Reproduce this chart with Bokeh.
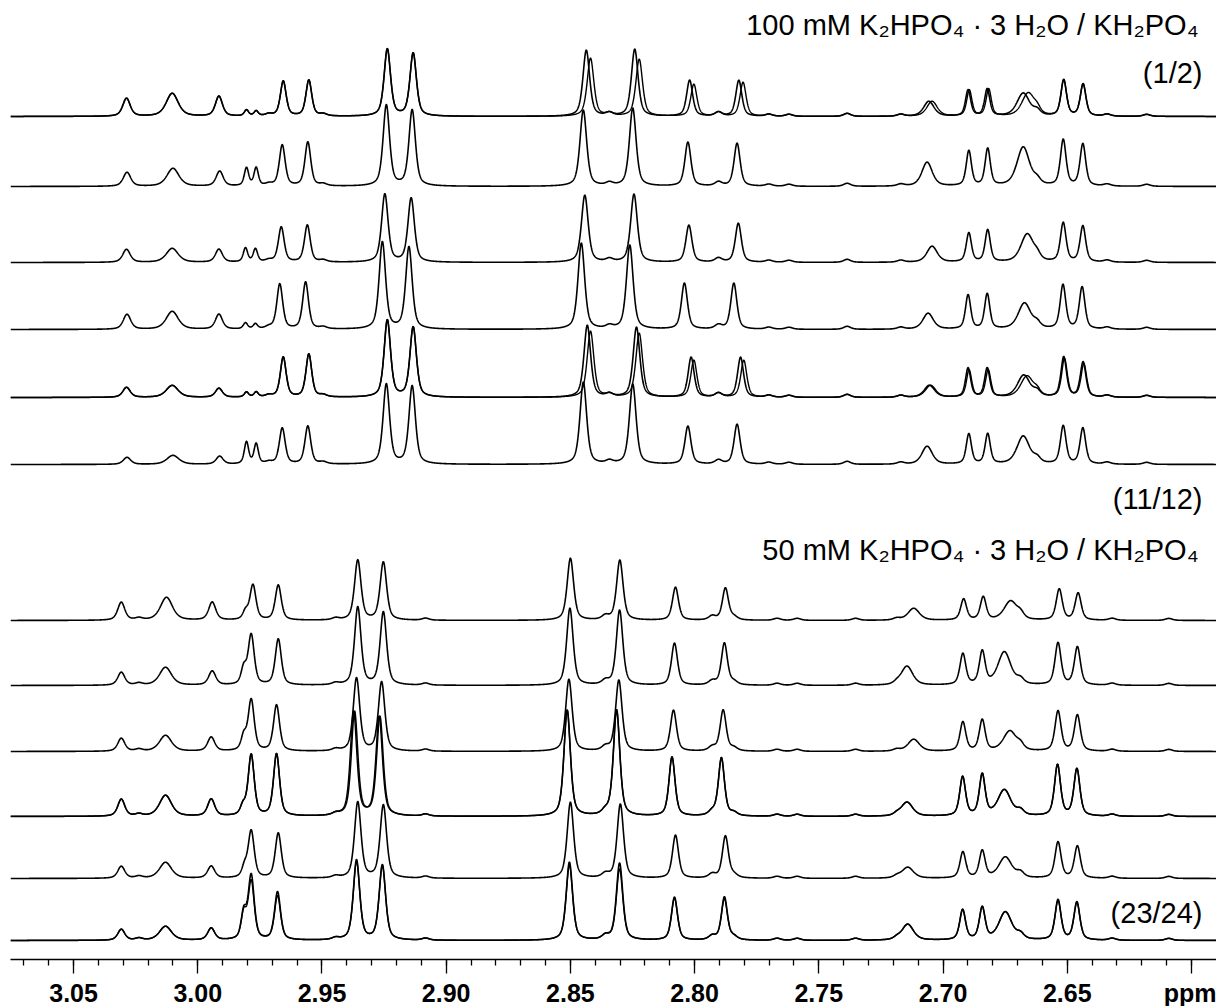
import numpy as np
from bokeh.plotting import figure
from bokeh.models import Range1d, FixedTicker, PrintfTickFormatter, Label
from bokeh.embed import file_html
from bokeh.resources import INLINE

# ---------------- axis ----------------
PPM_LEFT, PPM_RIGHT = 3.0754, 2.5899
MAJOR_TICKS = [3.05, 3.00, 2.95, 2.90, 2.85, 2.80, 2.75, 2.70, 2.65, 2.60]
MINOR_TICKS = [round(3.07 - 0.01 * i, 2) for i in range(48)]
AXIS_UNIT_LABEL = "ppm"

# ---------------- 100 mM group (six overlaid pairs) ----------------
TOP_LABEL = "100 mM K\u2082HPO\u2084 \u00b7 3 H\u2082O / KH\u2082PO\u2084"
TOP_FIRST, TOP_LAST = "(1/2)", "(11/12)"
TOP_FWHM = [0.0036, 0.0058, 0.0034, 0.0021, 0.0021, 0.0028, 0.0028, 0.0031, 0.0031,
            0.0032, 0.0032, 0.0029, 0.0029, 0.0050, 0.0025, 0.0025, 0.0060, 0.0027, 0.0027]
TOP_PPM = [
    [3.0287, 3.0103, 2.9915, 2.9804, 2.9765, 2.9656, 2.9553, 2.9237, 2.9133, 2.8436, 2.8241, 2.8020, 2.7822, 2.7057, 2.6899, 2.6822, 2.6677, 2.6514, 2.6436],
    [3.0285, 3.0100, 2.9912, 2.9804, 2.9765, 2.9660, 2.9557, 2.9241, 2.9137, 2.8448, 2.8249, 2.8027, 2.7829, 2.7064, 2.6896, 2.6820, 2.6677, 2.6516, 2.6437],
    [3.0287, 3.0103, 2.9915, 2.9808, 2.9768, 2.9664, 2.9559, 2.9247, 2.9141, 2.8442, 2.8244, 2.8023, 2.7824, 2.7044, 2.6896, 2.6820, 2.6661, 2.6516, 2.6437],
    [3.0285, 3.0103, 2.9915, 2.9808, 2.9768, 2.9670, 2.9566, 2.9257, 2.9150, 2.8456, 2.8261, 2.8041, 2.7842, 2.7060, 2.6899, 2.6822, 2.6672, 2.6517, 2.6440],
    [3.0287, 3.0103, 2.9915, 2.9804, 2.9765, 2.9656, 2.9553, 2.9237, 2.9133, 2.8432, 2.8234, 2.8014, 2.7815, 2.7055, 2.6899, 2.6822, 2.6675, 2.6514, 2.6436],
    [3.0285, 3.0100, 2.9912, 2.9804, 2.9765, 2.9660, 2.9557, 2.9241, 2.9137, 2.8448, 2.8249, 2.8027, 2.7829, 2.7064, 2.6896, 2.6820, 2.6677, 2.6516, 2.6437],
]
TOP_INT = [
    [18, 23, 20, 6, 5, 35, 36, 67, 63, 66, 67, 36, 36, 15, 26, 27, 23, 36, 32],
    [14, 18, 15, 18, 18, 41, 44, 81, 76, 76, 78, 44, 43, 24, 35, 37, 39, 46, 42],
    [13, 14, 13, 14, 13, 35, 37, 68, 64, 67, 68, 37, 39, 16, 29, 32, 28, 39, 36],
    [15, 18, 15, 6, 5, 45, 47, 87, 82, 86, 84, 46, 46, 16, 34, 35, 26, 44, 42],
    [10, 12, 9, 5, 5, 40, 43, 77, 70, 72, 70, 40, 40, 12, 29, 29, 22, 40, 35],
    [7, 9, 8, 22, 20, 36, 38, 80, 78, 82, 80, 38, 40, 18, 30, 30, 28, 38, 36],
]
TOP_PPM_B = [
    [3.0287, 3.0103, 2.9915, 2.9804, 2.9765, 2.9656, 2.9553, 2.9237, 2.9133, 2.8419, 2.8223, 2.8003, 2.7805, 2.7044, 2.6894, 2.6816, 2.6657, 2.6514, 2.6436],
    None, None, None,
    [3.0287, 3.0103, 2.9915, 2.9804, 2.9765, 2.9656, 2.9553, 2.9237, 2.9133, 2.8419, 2.8223, 2.8003, 2.7802, 2.7050, 2.6895, 2.6818, 2.6662, 2.6511, 2.6433],
    None,
]
TOP_INT_B = [
    [18, 23, 20, 6, 5, 35, 36, 67, 63, 58, 57, 32, 34, 15, 26, 27, 23, 36, 32],
    None, None, None,
    [10, 12, 9, 5, 5, 40, 43, 77, 70, 66, 64, 37, 37, 12, 27, 27, 21, 38, 33],
    None,
]
TOP_MINOR_PPM = [2.9714, 2.9495, 2.8343, 2.7904, 2.7701, 2.7620, 2.7386, 2.7170, 2.6621, 2.6339, 2.6180]
TOP_MINOR_INT = [2, 2, 3, 4, 2, 2, 3, 2, 5, 2, 2]
TOP_BASE = [116, 186, 262, 329, 397, 464]

# ---------------- 50 mM group ----------------
BOT_LABEL = "50 mM K\u2082HPO\u2084 \u00b7 3 H\u2082O / KH\u2082PO\u2084"
BOT_LAST = "(23/24)"
BOT_FWHM = [0.0034, 0.0058, 0.0034, 0.0025, 0.0029, 0.0029, 0.0031, 0.0031, 0.0031,
            0.0031, 0.0029, 0.0029, 0.0055, 0.0028, 0.0028, 0.0062, 0.0029, 0.0029]
BOT_PPM = [
    [3.0308, 3.0126, 2.9942, 2.9808, 2.9778, 2.9676, 2.9356, 2.9253, 2.8500, 2.8301, 2.8077, 2.7876, 2.7118, 2.6917, 2.6838, 2.6728, 2.6532, 2.6456],
    [3.0308, 3.0130, 2.9942, 2.9815, 2.9785, 2.9676, 2.9356, 2.9253, 2.8502, 2.8302, 2.8081, 2.7880, 2.7145, 2.6920, 2.6842, 2.6753, 2.6537, 2.6459],
    [3.0308, 3.0130, 2.9946, 2.9815, 2.9785, 2.9683, 2.9361, 2.9260, 2.8506, 2.8305, 2.8085, 2.7885, 2.7118, 2.6920, 2.6842, 2.6731, 2.6537, 2.6459],
    [3.0308, 3.0130, 2.9946, 2.9818, 2.9785, 2.9683, 2.9369, 2.9267, 2.8513, 2.8314, 2.8091, 2.7892, 2.7145, 2.6921, 2.6842, 2.6753, 2.6539, 2.6461],
    [3.0308, 3.0130, 2.9946, 2.9812, 2.9785, 2.9676, 2.9356, 2.9253, 2.8500, 2.8299, 2.8077, 2.7876, 2.7142, 2.6920, 2.6842, 2.6749, 2.6537, 2.6459],
    [3.0308, 3.0130, 2.9946, 2.9815, 2.9785, 2.9679, 2.9361, 2.9257, 2.8504, 2.8302, 2.8081, 2.7880, 2.7142, 2.6921, 2.6842, 2.6749, 2.6537, 2.6461],
]
BOT_INT = [
    [18, 23, 18, 8, 35, 35, 60, 58, 62, 60, 33, 32, 12, 21, 23, 19, 31, 27],
    [13, 18, 14, 16, 50, 46, 78, 73, 77, 75, 42, 42, 19, 31, 33, 33, 42, 38],
    [13, 16, 14, 14, 51, 46, 73, 69, 72, 71, 41, 41, 12, 29, 31, 20, 40, 36],
    [17, 21, 17, 9, 61, 62, 104, 99, 106, 106, 59, 58, 14, 39, 41, 26, 51, 47],
    [12, 16, 12, 10, 47, 45, 76, 73, 76, 74, 43, 42, 11, 26, 27, 21, 36, 32],
    [11, 14, 12, 26, 64, 48, 80, 75, 78, 77, 43, 43, 16, 30, 32, 28, 40, 38],
]
BOT_PPM_B = [
    None, None, None,
    [3.0308, 3.0130, 2.9946, 2.9818, 2.9785, 2.9683, 2.9373, 2.9270, 2.8513, 2.8314, 2.8091, 2.7892, 2.7145, 2.6921, 2.6842, 2.6753, 2.6539, 2.6461],
    None, None,
]
BOT_INT_B = [
    None, None, None, None, None,
    [11, 14, 12, 25, 58, 44, 78, 74, 75, 71, 42, 41, 16, 30, 32, 28, 39, 37],
]
BOT_MINOR_PPM = [3.0237, 2.9445, 2.9083, 2.8359, 2.7929, 2.7842, 2.7668, 2.7587, 2.7352, 2.7186, 2.6688, 2.6319, 2.6091]
BOT_MINOR_INT = [2, 2, 2, 4, 4, 3, 2, 2, 2, 2, 5, 2, 2]
BOT_BASE = [620, 685, 751, 816, 878, 940]

MINOR_FWHM = 0.0034
ETA = 0.55  # Lorentzian fraction of the pseudo-Voigt line shape

FRAME_W, FRAME_H = 1206, 959


def line_shape(x, centre, height, fwhm):
    d = (x - centre) / (fwhm / 2.0)
    return height * (ETA / (1.0 + d * d) + (1.0 - ETA) * np.exp(-np.log(2.0) * d * d))


def spectrum(x, ppms, ints, widths, minor_ppm, minor_int):
    y = np.zeros_like(x)
    for c, h, w in zip(ppms, ints, widths):
        y += line_shape(x, c, h, w)
    for c, h in zip(minor_ppm, minor_int):
        y += line_shape(x, c, h, MINOR_FWHM)
    return y


p = figure(frame_width=FRAME_W, frame_height=FRAME_H,
           x_range=Range1d(PPM_LEFT, PPM_RIGHT), y_range=Range1d(FRAME_H, 0),
           output_backend="svg", toolbar_location=None, y_axis_location=None,
           min_border_left=10, min_border_right=0, min_border_top=0, min_border_bottom=47)
p.outline_line_color = None
p.xgrid.visible = False
p.ygrid.visible = False
p.background_fill_color = "white"
p.border_fill_color = "white"

xs = np.linspace(PPM_LEFT, PPM_RIGHT, 6000)

groups = [
    (TOP_PPM, TOP_INT, TOP_PPM_B, TOP_INT_B, TOP_FWHM, TOP_MINOR_PPM, TOP_MINOR_INT, TOP_BASE),
    (BOT_PPM, BOT_INT, BOT_PPM_B, BOT_INT_B, BOT_FWHM, BOT_MINOR_PPM, BOT_MINOR_INT, BOT_BASE),
]
for ppm_a, int_a, ppm_b, int_b, widths, mppm, mint, bases in groups:
    for i, base in enumerate(bases):
        ya = spectrum(xs, ppm_a[i], int_a[i], widths, mppm, mint)
        if ppm_b[i] is not None or int_b[i] is not None:
            pb = ppm_b[i] if ppm_b[i] is not None else ppm_a[i]
            ib = int_b[i] if int_b[i] is not None else int_a[i]
            yb = spectrum(xs, pb, ib, widths, mppm, mint)
            p.line(xs, base - yb, line_color="black", line_width=1.4)
        p.line(xs, base - ya, line_color="black", line_width=1.6)

ax = p.xaxis[0]
ax.ticker = FixedTicker(ticks=MAJOR_TICKS, minor_ticks=MINOR_TICKS)
ax.formatter = PrintfTickFormatter(format="%.2f")
ax.major_label_overrides = {2.6: AXIS_UNIT_LABEL}
ax.axis_line_color = "black"
ax.axis_line_width = 1.3
ax.major_tick_line_width = 1.3
ax.minor_tick_line_width = 1.3
ax.major_tick_in = 0
ax.major_tick_out = 14
ax.minor_tick_in = 0
ax.minor_tick_out = 6
ax.major_label_standoff = 5
ax.major_label_text_font = "Liberation Sans"
ax.major_label_text_font_style = "bold"
ax.major_label_text_font_size = "25px"
ax.major_label_text_color = "black"


def ppm_at(px):
    return PPM_LEFT + (PPM_RIGHT - PPM_LEFT) * (px - 10) / FRAME_W


def add_text(text, right_px, y_px):
    p.add_layout(Label(x=ppm_at(right_px), y=y_px, text=text, text_align="right",
                       text_baseline="middle", text_font="Liberation Sans",
                       text_font_size="29px", text_color="black"))


add_text(TOP_LABEL, 1198, 24)
add_text(TOP_FIRST, 1202, 72)
add_text(TOP_LAST, 1202, 498)
add_text(BOT_LABEL, 1198, 549)
add_text(BOT_LAST, 1202, 912)

open("out.html", "w").write(file_html(p, INLINE))
